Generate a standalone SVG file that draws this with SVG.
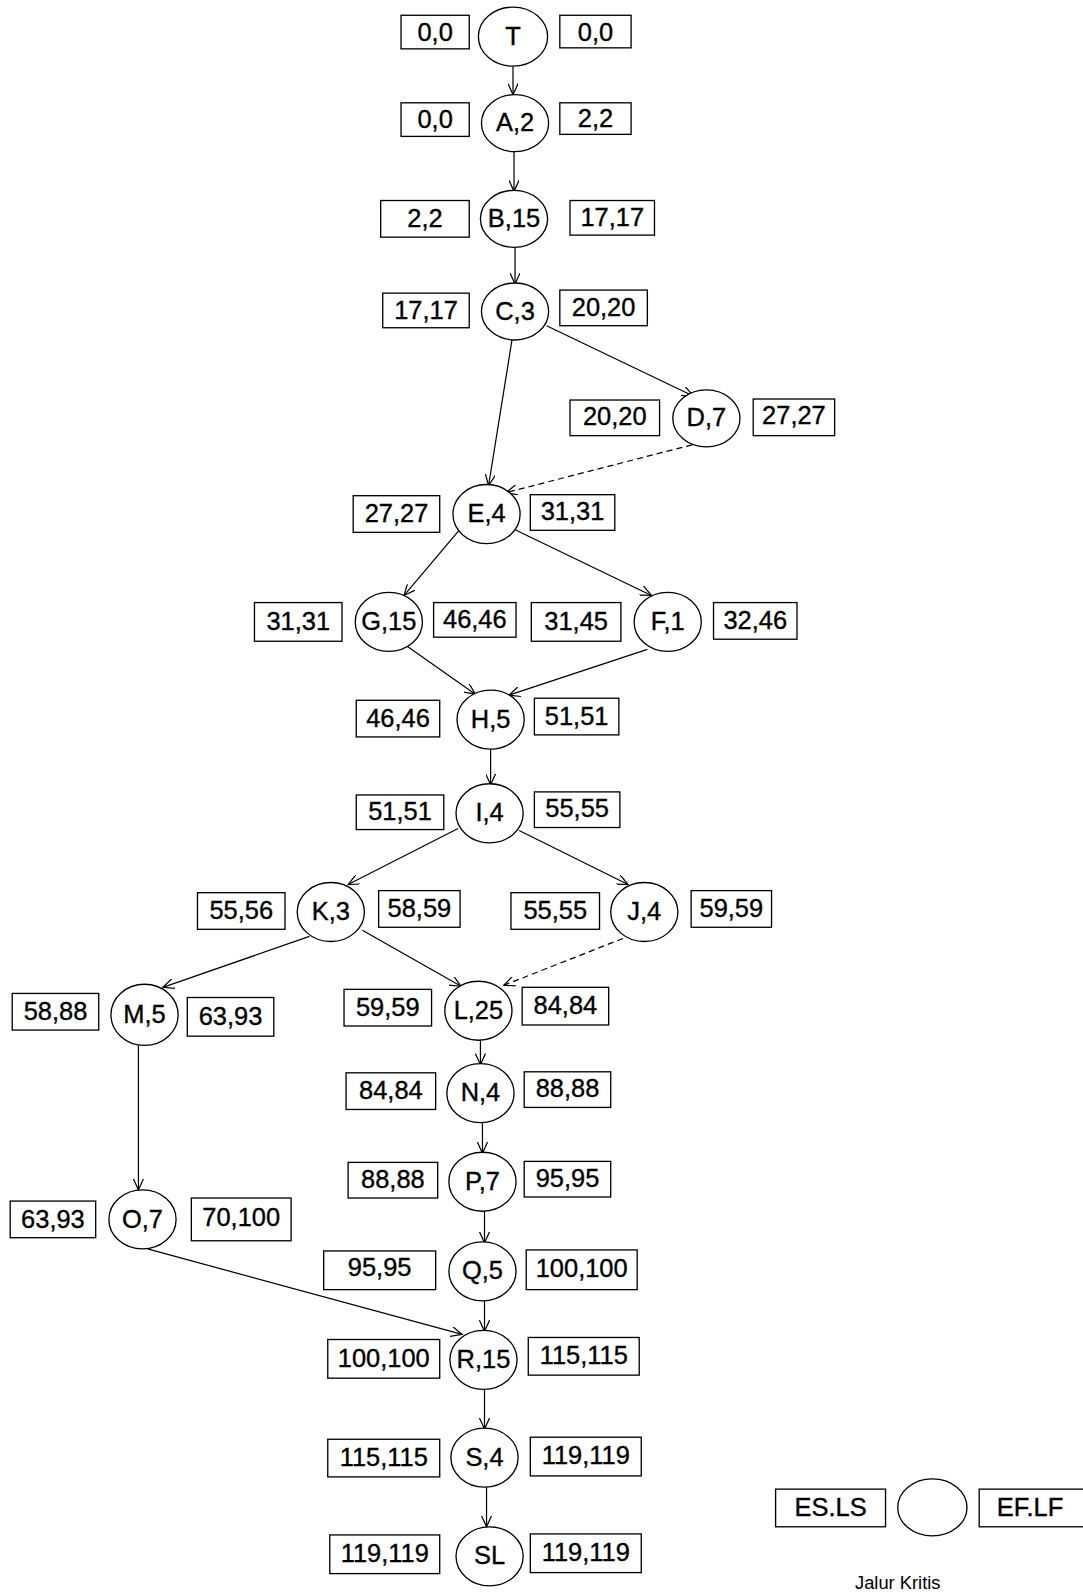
<svg xmlns="http://www.w3.org/2000/svg" width="1083" height="1596" viewBox="0 0 1083 1596">
<style>
.bx{fill:#fff;stroke:#000;stroke-width:1.3}
.el{fill:#fff;stroke:#000;stroke-width:1.3}
.t{font-family:"Liberation Sans",Arial,sans-serif;font-size:25px;fill:#000;stroke:#000;stroke-width:0.35;text-anchor:middle}
.c{fill:none;stroke:#000;stroke-width:1.2;marker-end:url(#ar)}
.d{stroke-dasharray:6,4}
.lg{font-family:"Liberation Sans",Arial,sans-serif;font-size:18px;fill:#000;text-anchor:middle}
</style>
<defs>
<marker id="ar" viewBox="0 0 12 10" refX="11" refY="5" markerWidth="12" markerHeight="10" markerUnits="userSpaceOnUse" orient="auto">
<path d="M0,0 L11,5 L0,10" fill="none" stroke="#000" stroke-width="1.2"/>
</marker>
</defs>
<rect width="1083" height="1596" fill="#fff"/>
<g transform="scale(1.01786)">
<g id="connectors">
<line class="c" x1="504" y1="65" x2="504" y2="93"/>
<line class="c" x1="505" y1="148" x2="505" y2="188"/>
<line class="c" x1="506" y1="243" x2="506" y2="279"/>
<line class="c" x1="537" y1="320" x2="681" y2="389"/>
<line class="c" x1="503" y1="334" x2="480" y2="477"/>
<line class="c d" x1="680" y1="437" x2="497" y2="484"/>
<line class="c" x1="451" y1="521" x2="397" y2="585"/>
<line class="c" x1="505" y1="520" x2="640" y2="585"/>
<line class="c" x1="400" y1="635" x2="467" y2="682"/>
<line class="c" x1="636" y1="638" x2="500" y2="683"/>
<line class="c" x1="482" y1="736" x2="482" y2="771"/>
<line class="c" x1="450" y1="814" x2="342" y2="869"/>
<line class="c" x1="510" y1="816" x2="617" y2="869"/>
<line class="c" x1="304" y1="920" x2="160" y2="970"/>
<line class="c" x1="356" y1="914" x2="453" y2="969"/>
<line class="c d" x1="612" y1="922" x2="495" y2="968"/>
<line class="c" x1="472" y1="1022" x2="472" y2="1046"/>
<line class="c" x1="474" y1="1103" x2="474" y2="1133"/>
<line class="c" x1="476" y1="1190" x2="476" y2="1221"/>
<line class="c" x1="136" y1="1027" x2="136" y2="1169"/>
<line class="c" x1="145" y1="1227" x2="454" y2="1311"/>
<line class="c" x1="476" y1="1278" x2="476" y2="1308"/>
<line class="c" x1="476" y1="1364" x2="476" y2="1404"/>
<line class="c" x1="478" y1="1461" x2="478" y2="1500"/>
</g>
<g id="node-T">
<rect class="bx" x="394" y="15" width="67" height="33"/><text class="t" x="427.5" y="40">0,0</text>
<ellipse class="el" cx="504" cy="36" rx="34" ry="29"/><text class="t" x="504" y="44">T</text>
<rect class="bx" x="550" y="15" width="70" height="32"/><text class="t" x="585" y="40">0,0</text>
</g>
<g id="node-A">
<rect class="bx" x="394" y="101" width="67" height="33"/><text class="t" x="427.5" y="126">0,0</text>
<ellipse class="el" cx="506" cy="121" rx="33" ry="28"/><text class="t" x="506" y="129">A,2</text>
<rect class="bx" x="550" y="101" width="70" height="31"/><text class="t" x="585" y="125">2,2</text>
</g>
<g id="node-B">
<rect class="bx" x="374" y="197" width="87" height="36"/><text class="t" x="417.5" y="223">2,2</text>
<ellipse class="el" cx="505" cy="215" rx="33" ry="28"/><text class="t" x="505" y="223">B,15</text>
<rect class="bx" x="560" y="197" width="83" height="34"/><text class="t" x="601.5" y="222">17,17</text>
</g>
<g id="node-C">
<rect class="bx" x="376" y="288" width="85" height="34"/><text class="t" x="418.5" y="313">17,17</text>
<ellipse class="el" cx="506" cy="306" rx="33" ry="28"/><text class="t" x="506" y="314">C,3</text>
<rect class="bx" x="550" y="285" width="86" height="35"/><text class="t" x="593" y="310">20,20</text>
</g>
<g id="node-D">
<rect class="bx" x="560" y="393" width="88" height="35"/><text class="t" x="604" y="418">20,20</text>
<ellipse class="el" cx="694" cy="411" rx="33" ry="28"/><text class="t" x="694" y="419">D,7</text>
<rect class="bx" x="740" y="392" width="80" height="36"/><text class="t" x="780" y="417">27,27</text>
</g>
<g id="node-E">
<rect class="bx" x="347" y="487" width="85" height="36"/><text class="t" x="389.5" y="513">27,27</text>
<ellipse class="el" cx="478" cy="505" rx="33" ry="29"/><text class="t" x="478" y="513">E,4</text>
<rect class="bx" x="521" y="486" width="83" height="35"/><text class="t" x="562.5" y="511">31,31</text>
</g>
<g id="node-G">
<rect class="bx" x="250" y="592" width="86" height="38"/><text class="t" x="293" y="619">31,31</text>
<ellipse class="el" cx="382" cy="611" rx="33" ry="29"/><text class="t" x="382" y="619">G,15</text>
<rect class="bx" x="426" y="592" width="81" height="34"/><text class="t" x="466.5" y="617">46,46</text>
</g>
<g id="node-F">
<rect class="bx" x="522" y="592" width="88" height="38"/><text class="t" x="566" y="619">31,45</text>
<ellipse class="el" cx="656" cy="611" rx="33" ry="29"/><text class="t" x="656" y="619">F,1</text>
<rect class="bx" x="701" y="592" width="82" height="36"/><text class="t" x="742" y="618">32,46</text>
</g>
<g id="node-H">
<rect class="bx" x="350" y="688" width="82" height="36"/><text class="t" x="391" y="714">46,46</text>
<ellipse class="el" cx="482" cy="707" rx="33" ry="29"/><text class="t" x="482" y="715">H,5</text>
<rect class="bx" x="525" y="686" width="83" height="36"/><text class="t" x="566.5" y="712">51,51</text>
</g>
<g id="node-I">
<rect class="bx" x="350" y="781" width="86" height="34"/><text class="t" x="393" y="806">51,51</text>
<ellipse class="el" cx="481" cy="799" rx="33" ry="29"/><text class="t" x="481" y="807">I,4</text>
<rect class="bx" x="525" y="778" width="84" height="35"/><text class="t" x="567" y="803">55,55</text>
</g>
<g id="node-K">
<rect class="bx" x="194" y="877" width="86" height="36"/><text class="t" x="237" y="903">55,56</text>
<ellipse class="el" cx="325" cy="896" rx="33" ry="29"/><text class="t" x="325" y="904">K,3</text>
<rect class="bx" x="372" y="875" width="80" height="36"/><text class="t" x="412" y="901">58,59</text>
</g>
<g id="node-J">
<rect class="bx" x="502" y="877" width="87" height="36"/><text class="t" x="545.5" y="903">55,55</text>
<ellipse class="el" cx="633" cy="896" rx="33" ry="29"/><text class="t" x="633" y="904">J,4</text>
<rect class="bx" x="679" y="875" width="79" height="36"/><text class="t" x="718.5" y="901">59,59</text>
</g>
<g id="node-M">
<rect class="bx" x="12" y="976" width="85" height="36"/><text class="t" x="54.5" y="1002">58,88</text>
<ellipse class="el" cx="142" cy="997" rx="33" ry="30"/><text class="t" x="142" y="1005">M,5</text>
<rect class="bx" x="184" y="980" width="85" height="38"/><text class="t" x="226.5" y="1007">63,93</text>
</g>
<g id="node-L">
<rect class="bx" x="338" y="972" width="86" height="36"/><text class="t" x="381" y="998">59,59</text>
<ellipse class="el" cx="470" cy="993" rx="33" ry="29"/><text class="t" x="470" y="1001">L,25</text>
<rect class="bx" x="513" y="970" width="85" height="37"/><text class="t" x="555.5" y="996">84,84</text>
</g>
<g id="node-N">
<rect class="bx" x="340" y="1054" width="88" height="36"/><text class="t" x="384" y="1080">84,84</text>
<ellipse class="el" cx="472" cy="1074" rx="33" ry="29"/><text class="t" x="472" y="1082">N,4</text>
<rect class="bx" x="515" y="1053" width="85" height="35"/><text class="t" x="557.5" y="1078">88,88</text>
</g>
<g id="node-P">
<rect class="bx" x="342" y="1142" width="88" height="35"/><text class="t" x="386" y="1167">88,88</text>
<ellipse class="el" cx="474" cy="1161" rx="33" ry="29"/><text class="t" x="474" y="1169">P,7</text>
<rect class="bx" x="515" y="1141" width="85" height="35"/><text class="t" x="557.5" y="1166">95,95</text>
</g>
<g id="node-O">
<rect class="bx" x="10" y="1180" width="84" height="36"/><text class="t" x="52" y="1206">63,93</text>
<ellipse class="el" cx="140" cy="1198" rx="33" ry="29"/><text class="t" x="140" y="1206">O,7</text>
<rect class="bx" x="188" y="1177" width="98" height="42"/><text class="t" x="237" y="1204">70,100</text>
</g>
<g id="node-Q">
<rect class="bx" x="318" y="1229" width="110" height="38"/><text class="t" x="373" y="1254">95,95</text>
<ellipse class="el" cx="474" cy="1249" rx="33" ry="29"/><text class="t" x="474" y="1257">Q,5</text>
<rect class="bx" x="517" y="1228" width="109" height="39"/><text class="t" x="571.5" y="1255">100,100</text>
</g>
<g id="node-R">
<rect class="bx" x="322" y="1316" width="110" height="38"/><text class="t" x="377" y="1343">100,100</text>
<ellipse class="el" cx="475" cy="1336" rx="33" ry="29"/><text class="t" x="475" y="1344">R,15</text>
<rect class="bx" x="519" y="1314" width="109" height="37"/><text class="t" x="573.5" y="1340">115,115</text>
</g>
<g id="node-S">
<rect class="bx" x="322" y="1414" width="110" height="37"/><text class="t" x="377" y="1440">115,115</text>
<ellipse class="el" cx="476" cy="1432" rx="33" ry="29"/><text class="t" x="476" y="1440">S,4</text>
<rect class="bx" x="521" y="1412" width="109" height="38"/><text class="t" x="575.5" y="1438">119,119</text>
</g>
<g id="node-SL">
<rect class="bx" x="324" y="1508" width="108" height="38"/><text class="t" x="378" y="1535">119,119</text>
<ellipse class="el" cx="481" cy="1529" rx="33" ry="29"/><text class="t" x="481" y="1537">SL</text>
<rect class="bx" x="521" y="1507" width="109" height="38"/><text class="t" x="575.5" y="1534">119,119</text>
</g>
<g id="legend">
<rect class="bx" x="762" y="1463" width="108" height="37"/><text class="t" x="816" y="1489">ES.LS</text>
<ellipse class="el" cx="916" cy="1481" rx="34" ry="28"/>
<rect class="bx" x="962" y="1463" width="110" height="37"/><text class="t" x="1012" y="1489">EF.LF</text>
<text class="lg" x="882" y="1561">Jalur Kritis</text>
</g>
</g>
</svg>
